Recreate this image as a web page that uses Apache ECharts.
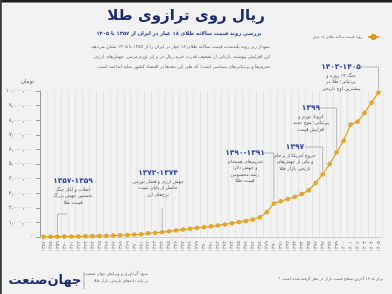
<!DOCTYPE html>
<html><head><meta charset="utf-8">
<script src="https://cdn.jsdelivr.net/npm/echarts@6/dist/echarts.min.js"></script>
<style>html,body{margin:0;padding:0;background:#f2f2f2}#c{width:392px;height:294px}</style>
</head><body><div id="c"></div>
<script>
const years = ['1357','1358','1359','1360','1361','1362','1363','1364','1365','1366','1367','1368','1369','1370','1371','1372','1373','1374','1375','1376','1377','1378','1379','1380','1381','1382','1383','1384','1385','1386','1387','1388','1389','1390','1391','1392','1393','1394','1395','1396','1397','1398','1399','1400','1401','1402','1403','1404','1405'];
const goldPrice = [15000,20000,25000,30000,35000,40000,50000,60000,70000,85000,100000,120000,140000,165000,190000,250000,290000,340000,390000,450000,510000,570000,620000,670000,730000,790000,860000,940000,1020000,1100000,1200000,1350000,1700000,2300000,2450000,2600000,2750000,2950000,3200000,3700000,4300000,5000000,5800000,6600000,7700000,7900000,8500000,9200000,9900000];
const seriesName = 'روند قیمت سالانه طلای ۱۸ عیار';
const yMax = 10000000, yStep = 1000000;

const FONT = "'DejaVu Sans', sans-serif";
const RLM = '\u200F';
function fa(s){ return String(s).replace(/\d/g, d => '۰۱۲۳۴۵۶۷۸۹'[d]); }
function faNum(v){ return fa(Number(v).toLocaleString('en-US')); }

const notes = [
  {year:'1359', label:'۱۳۵۷-۱۳۵۹', lines:['انقلاب و آغاز جنگ','نخستین جهش بزرگ','قیمت طلا'], x:73, y:181, kind:'hook', hx:67, hy:214},
  {year:'1374', label:'۱۳۷۲-۱۳۷۴', lines:['جهش ارزی و فشار تورمی','حاصل از پایان تثبیت','نرخ‌های ارز'], x:158, y:173, kind:'down', hy:208},
  {year:'1390', label:'۱۳۹۰-۱۳۹۱', lines:['تحریم‌های هسته‌ای','و جهش دلار؛','رشد محسوس','قیمت طلا'], x:245, y:153, kind:'elbow', hx:264},
  {year:'1397', label:'۱۳۹۷', lines:['خروج آمریکا از برجام','و یکی از جهش‌های','تاریخی بازار طلا'], x:295, y:147, kind:'elbow', hx:305},
  {year:'1399', label:'۱۳۹۹', lines:['کرونا، تورم و','بی‌ثباتی؛ موج جدید','افزایش قیمت'], x:311, y:108, kind:'elbow', hx:320},
  {year:'1405', label:'۱۴۰۳-۱۴۰۵', lines:['جنگ ۱۲ روزه و','بی‌ثباتی؛ طلا در','بیشترین اوج تاریخی'], x:341, y:67, kind:'elbow', hx:361}
];

const chart = echarts.init(document.getElementById('c'), null, {renderer:'canvas'});
function txt(id, text, x, y, size, color, weight, align){
  return {type:'text', id:id, z:10, silent:true, style:{text:text, x:x, y:y, fill:color, fontSize:size, fontFamily:FONT, fontWeight:weight||'normal', align:align||'center', verticalAlign:'middle', textAlign:align||'center', textVerticalAlign:'middle'}};
}

chart.setOption({
  backgroundColor:'#f2f2f2',
  animation:false,
  textStyle:{fontFamily:FONT},
  grid:{left:40, right:10, top:91, bottom:57},
  legend:{data:[seriesName], right:7, top:29, align:'right', itemWidth:11, itemHeight:5, textStyle:{fontSize:3.7, color:'#666', fontFamily:FONT, padding:[0,1,0,0]}},
  xAxis:{type:'category', data:years, boundaryGap:true,
    axisLine:{lineStyle:{color:'#cfcfcf'}}, axisTick:{show:false},
    axisLabel:{interval:0, rotate:90, fontSize:5, color:'#7a7a7a', margin:4, fontFamily:FONT, formatter:v=>fa(v)},
    splitLine:{show:true, lineStyle:{color:'#e4e4e4', width:1}}},
  yAxis:{type:'value', min:0, max:yMax, interval:yStep,
    name:'تومان', nameGap:6, nameTextStyle:{fontSize:5.5, color:'#555', align:'right', padding:[0,6,0,0], fontFamily:FONT},
    axisLine:{show:true, lineStyle:{color:'#9a9a9a'}}, axisTick:{show:true, length:4, lineStyle:{color:'#9a9a9a'}},
    splitLine:{show:false},
    axisLabel:{fontSize:5.5, color:'#666', margin:7, fontFamily:FONT, formatter:v=>faNum(v)}},
  series:[{type:'line', name:seriesName, data:goldPrice, symbol:'circle', symbolSize:4, z:3,
    lineStyle:{color:'#e2a31c', width:1.2}, itemStyle:{color:'#e9a91f', borderColor:'#cf911a', borderWidth:0.5}}]
});

const g = [];
g.push({type:'rect', id:'bt', z:20, shape:{x:0,y:0,width:392,height:2.5}, style:{fill:'#1e1e1e'}});
g.push({type:'rect', id:'bl', z:20, shape:{x:0,y:0,width:1.8,height:294}, style:{fill:'#3a3a3a'}});
g.push(txt('title','ریال روی ترازوی طلا',186,16,15,'#1c2b6e','bold'));
g.push(txt('sub','بررسی روند قیمت سالانه طلای ۱۸ عیار در ایران از ۱۳۵۷ تا ۱۴۰۵',179,33.5,5.2,'#2c3f9e','bold'));
const desc = ['نمودار زیر روند بلندمدت قیمت سالانه طلای ۱۸ عیار در ایران را از ۱۳۵۷ تا ۱۴۰۵ نشان می‌دهد.'+RLM,
  'این افزایش پیوسته، بازتابی از تضعیف قدرت خرید ریال در برابر تورم مزمن، جهش‌های ارزی،'+RLM,
  'تحریم‌ها و بی‌ثباتی‌های سیاسی است؛ که طی این دهه‌ها بر اقتصاد کشور سایه انداخته است.'+RLM];
desc.forEach((t,i)=>g.push(txt('d'+i,t,270,47+i*10,4.6,'#666','normal','right')));
g.push(txt('logo','جهان‌صنعت',45,281,13,'#1c2b6e','bold'));
g.push({type:'line', id:'sep', z:10, shape:{x1:84,y1:272,x2:84,y2:289}, style:{stroke:'#999', lineWidth:0.8}});
g.push(txt('src1','منبع: گردآوری و ویرایش جهان صنعت',148,274,4.1,'#666','normal','right'));
g.push(txt('src2','بر پایه داده‌های تاریخی بازار طلا',148,280.5,4.1,'#666','normal','right'));
g.push(txt('foot','* برای ۱۴۰۵ آخرین سطح قیمت بازار در نظر گرفته شده است.'+RLM,383,279,4.0,'#666','normal','right'));

notes.forEach((n,k)=>{
  g.push(txt('nl'+k,n.label,n.x,n.y,7.5,'#3446a6','bold'));
  n.lines.forEach((t,i)=>g.push(txt('nt'+k+'_'+i,t,n.x,n.y+8.5+i*6.5,4.7,'#555')));
  const idx = years.indexOf(n.year);
  const p = chart.convertToPixel({seriesIndex:0},[idx, goldPrice[idx]]);
  let pts;
  if(n.kind==='elbow') pts = [[n.hx,n.y],[p[0],n.y],[p[0],p[1]-3]];
  else if(n.kind==='hook') pts = [[n.hx,n.hy],[p[0],n.hy],[p[0],p[1]-3]];
  else pts = [[p[0],n.hy],[p[0],p[1]-3]];
  g.push({type:'polyline', id:'nc'+k, z:9, shape:{points:pts}, style:{stroke:'#9c9c9c', lineWidth:0.7, fill:null}});
});
chart.setOption({graphic:g});
</script></body></html>
